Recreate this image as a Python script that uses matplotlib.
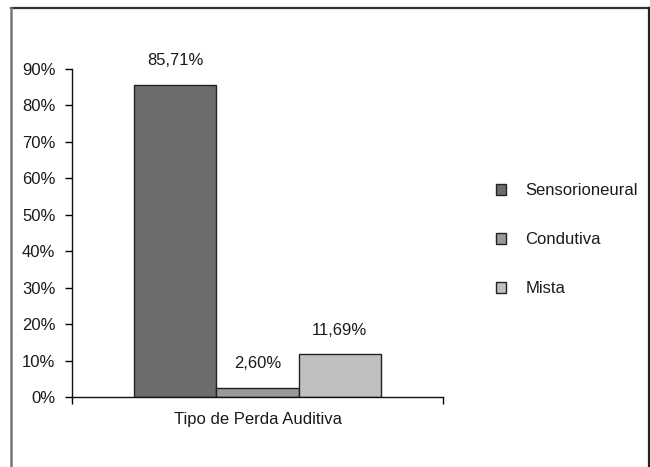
import matplotlib
matplotlib.use("Agg")
import matplotlib.pyplot as plt
from matplotlib.lines import Line2D
from matplotlib.ticker import FuncFormatter, FixedLocator

plt.rcParams['font.family'] = ['Liberation Sans', 'DejaVu Sans']

group_label = "Tipo de Perda Auditiva"
series_names = ["Sensorioneural", "Condutiva", "Mista"]
series_values = [85.71, 2.60, 11.69]
value_labels = ["85,71%", "2,60%", "11,69%"]
bar_colors = ["#6c6c6c", "#999999", "#c0c0c0"]
y_ticks = [0, 10, 20, 30, 40, 50, 60, 70, 80, 90]

W, H = 650, 467
fig = plt.figure(figsize=(W / 100, H / 100), dpi=100)

# outer border of the figure
fig.add_artist(Line2D([11 / W, 649 / W], [1 - 8 / H, 1 - 8 / H], color="#333333", lw=1.6,
                      transform=fig.transFigure))
fig.add_artist(Line2D([11 / W, 11 / W], [1 - 8 / H, 0], color="#777777", lw=1.8,
                      transform=fig.transFigure))
fig.add_artist(Line2D([648.5 / W, 648.5 / W], [1 - 8 / H, 0], color="#222222", lw=1.6,
                      transform=fig.transFigure))

ax = fig.add_axes([72 / W, 1 - 397 / H, 371 / W, 328 / H])

width = 0.2215
center = 0.5
txt_color = "#1a1a1a"
for i, (name, val, lab, col) in enumerate(zip(series_names, series_values, value_labels, bar_colors)):
    x = center + (i - 1) * width
    ax.bar(x, val, width=width, color=col, edgecolor="#222222", linewidth=1.0, label=name)
    ax.annotate(lab, xy=(x, val), xytext=(0, 12), textcoords="offset points",
                ha="center", va="bottom", fontsize=12, color=txt_color)

ax.set_xlim(0, 1)
ax.set_ylim(0, 90)
ax.set_yticks(y_ticks)
ax.yaxis.set_major_formatter(FuncFormatter(lambda v, p: f"{int(v)}%"))
ax.tick_params(axis="y", direction="out", length=5, width=1, pad=7, labelsize=12,
               labelcolor=txt_color)

ax.xaxis.set_major_locator(FixedLocator([0, 1]))
ax.set_xticklabels(["", ""])
ax.xaxis.set_minor_locator(FixedLocator([center]))
ax.set_xticklabels([group_label], minor=True)
ax.tick_params(axis="x", which="major", direction="out", length=5, width=1)
ax.tick_params(axis="x", which="minor", length=0, pad=10.5, labelsize=12, labelcolor=txt_color)

for s in ["top", "right"]:
    ax.spines[s].set_visible(False)
for s in ["left", "bottom"]:
    ax.spines[s].set_linewidth(1.0)
    ax.spines[s].set_color("#111111")

fig.legend(loc="upper left", bbox_to_anchor=(496 / W, 1 - 183 / H), frameon=False,
           borderpad=0, borderaxespad=0, fontsize=12, handlelength=0.62, handleheight=0.62,
           handletextpad=1.15, labelspacing=2.05, labelcolor=txt_color)

fig.savefig("out.png", dpi=100)
